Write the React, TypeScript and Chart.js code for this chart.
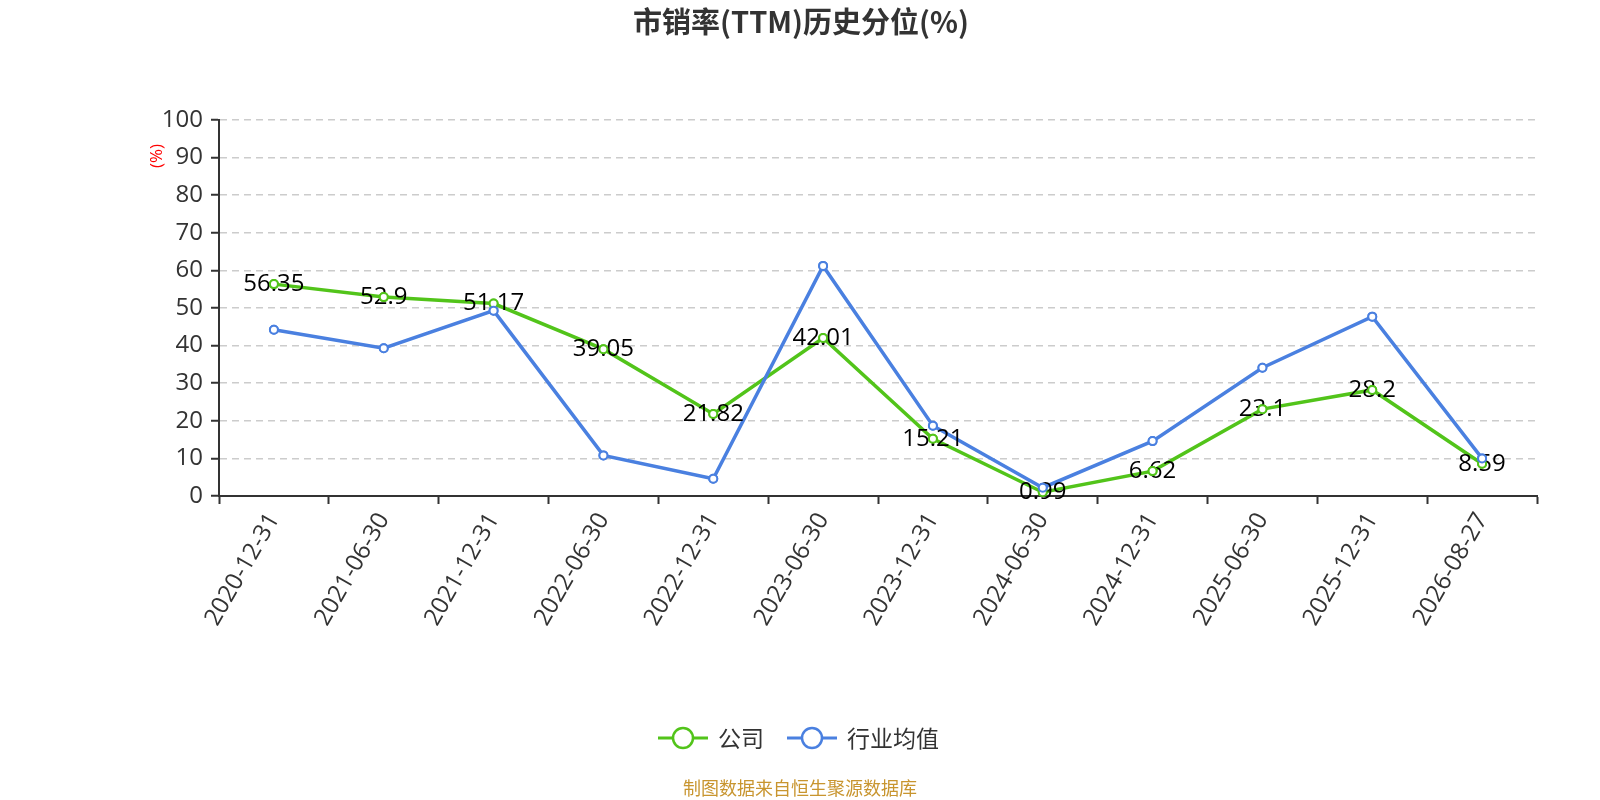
import React, { useEffect, useRef } from 'react';
import { Chart, registerables, type Plugin } from 'chart.js';

Chart.register(...registerables);

// Données
const dates = [
  '2020-12-31', '2021-06-30', '2021-12-31', '2022-06-30', '2022-12-31', '2023-06-30',
  '2023-12-31', '2024-06-30', '2024-12-31', '2025-06-30', '2025-12-31', '2026-08-27',
];
const companyValues = [56.35, 52.9, 51.17, 39.05, 21.82, 42.01, 15.21, 0.99, 6.62, 23.1, 28.2, 8.59];
const industryValues = [44.2, 39.3, 49.3, 10.8, 4.6, 61.2, 18.7, 2.2, 14.6, 34.1, 47.7, 10.0];
const seriesNames = ['公司', '行业均值'];
const seriesColors = ['#52c41a', '#4a80e0'];

const TITLE = '市销率(TTM)历史分位(%)';
const UNIT = '(%)';
const SOURCE = '制图数据来自恒生聚源数据库';
const FONT = "'Open Sans', 'Noto Sans CJK SC', sans-serif";
const CJK_FONT = "'Noto Sans CJK SC', 'Open Sans', sans-serif";

// Titre, unité, légende, source et étiquettes
const decorPlugin: Plugin<'line'> = {
  id: 'decor',
  afterDatasetsDraw(chart) {
    const ctx = chart.ctx;
    const meta = chart.getDatasetMeta(0);
    ctx.save();
    ctx.font = `24px ${FONT}`;
    ctx.fillStyle = '#000';
    ctx.textAlign = 'center';
    ctx.textBaseline = 'middle';
    meta.data.forEach((pt, i) => {
      ctx.fillText(String(companyValues[i]), pt.x, pt.y);
    });
    ctx.restore();
    // les marqueurs passent au-dessus des étiquettes
    [0, 1].forEach((idx) => {
      chart.getDatasetMeta(idx).data.forEach((pt) => pt.draw(ctx));
    });
  },
  afterDraw(chart) {
    const ctx = chart.ctx;
    ctx.save();

    // titre
    ctx.fillStyle = '#333';
    ctx.font = `bold 29px ${CJK_FONT}`;
    ctx.textAlign = 'center';
    ctx.textBaseline = 'middle';
    ctx.fillText(TITLE, 801, 22);

    // unité de l'axe y
    ctx.save();
    ctx.translate(157, 156);
    ctx.rotate(-Math.PI / 2);
    ctx.fillStyle = '#ff0000';
    ctx.font = `17px ${FONT}`;
    ctx.fillText(UNIT, 0, 0);
    ctx.restore();

    // légende
    const items = [
      { x: 658, name: seriesNames[0], color: seriesColors[0] },
      { x: 787, name: seriesNames[1], color: seriesColors[1] },
    ];
    const ly = 738;
    items.forEach((it) => {
      ctx.strokeStyle = it.color;
      ctx.lineWidth = 3;
      ctx.beginPath();
      ctx.moveTo(it.x, ly);
      ctx.lineTo(it.x + 50, ly);
      ctx.stroke();
      ctx.beginPath();
      ctx.arc(it.x + 25, ly, 10, 0, Math.PI * 2);
      ctx.fillStyle = '#fff';
      ctx.fill();
      ctx.lineWidth = 2.5;
      ctx.stroke();
      ctx.fillStyle = '#333';
      ctx.font = `23px ${CJK_FONT}`;
      ctx.textAlign = 'left';
      ctx.fillText(it.name, it.x + 60, ly);
    });

    // source
    ctx.fillStyle = '#c8952f';
    ctx.font = `18px ${CJK_FONT}`;
    ctx.textAlign = 'center';
    ctx.fillText(SOURCE, 800, 788);

    ctx.restore();
  },
};

const App: React.FC = () => {
  const canvasRef = useRef<HTMLCanvasElement>(null);

  useEffect(() => {
    if (!canvasRef.current) return;
    document.body.style.margin = '0';

    const chart = new Chart(canvasRef.current, {
      type: 'line',
      data: {
        labels: dates,
        datasets: [
          {
            label: seriesNames[0],
            data: companyValues,
            borderColor: seriesColors[0],
            backgroundColor: '#fff',
            pointBackgroundColor: '#fff',
            pointBorderColor: seriesColors[0],
            borderWidth: 3.5,
            pointRadius: 4,
            pointBorderWidth: 2,
            tension: 0,
            order: 1,
          },
          {
            label: seriesNames[1],
            data: industryValues,
            borderColor: seriesColors[1],
            backgroundColor: '#fff',
            pointBackgroundColor: '#fff',
            pointBorderColor: seriesColors[1],
            borderWidth: 3.5,
            pointRadius: 4,
            pointBorderWidth: 2,
            tension: 0,
            order: 0,
          },
        ],
      },
      options: {
        responsive: false,
        animation: false,
        layout: { padding: { left: 0, right: 63, top: 120, bottom: 0 } },
        plugins: {
          legend: { display: false },
          title: { display: false },
          tooltip: { enabled: false },
        },
        scales: {
          x: {
            offset: true,
            grid: {
              display: true,
              offset: true,
              drawOnChartArea: false,
              drawTicks: true,
              tickLength: 8,
              tickColor: '#333',
              tickWidth: 2,
            },
            border: { display: true, color: '#333', width: 2 },
            ticks: {
              autoSkip: false,
              maxRotation: 60,
              minRotation: 60,
              color: '#333',
              padding: 4,
              font: { size: 24, family: FONT },
            },
            afterFit: (scale) => {
              scale.height = 304;
            },
          },
          y: {
            min: 0,
            max: 100,
            grid: {
              color: '#cccccc',
              lineWidth: 1.5,
              tickColor: '#333',
              tickLength: 8,
              tickWidth: 2,
            },
            border: { display: true, color: '#333', width: 2, dash: [7, 5] },
            ticks: {
              stepSize: 10,
              color: '#333',
              padding: 8,
              font: { size: 24, family: FONT },
            },
            afterFit: (scale) => {
              scale.width = 219;
            },
          },
        },
      },
      plugins: [decorPlugin],
    });

    return () => {
      chart.destroy();
    };
  }, []);

  return (
    <div style={{ width: 1600, height: 800, background: '#fff' }}>
      <canvas ref={canvasRef} width={1600} height={800} style={{ width: 1600, height: 800 }} />
    </div>
  );
};

export default App;
